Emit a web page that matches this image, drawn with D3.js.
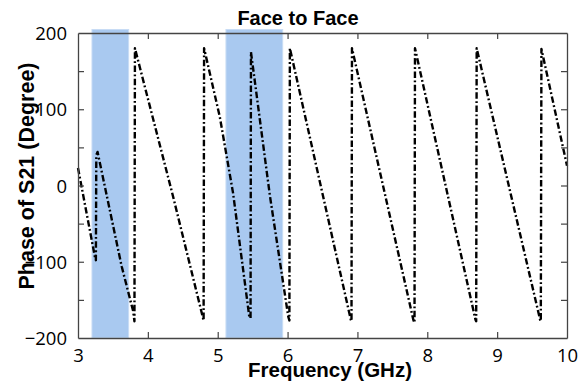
<!DOCTYPE html>
<html>
<head>
<meta charset="utf-8">
<script src="https://cdn.jsdelivr.net/npm/d3@7"></script>
<style>
  html, body { margin: 0; padding: 0; background: #fff; }
  svg { display: block; }
</style>
</head>
<body>
<svg id="chart" width="587" height="386"></svg>
<script>
// Measured S21 phase, face-to-face configuration
const freqGHz = [3.00, 3.245, 3.256, 3.262, 3.28, 3.625, 3.79, 3.808, 3.815, 4.36, 4.79, 4.798, 4.805,
  5.03, 5.22, 5.452, 5.47, 5.476, 5.748, 6.01, 6.026, 6.033, 6.905, 6.915, 6.922,
  7.80, 7.817, 7.824, 8.69, 8.70, 8.707, 9.615, 9.625, 9.634, 10.0];
const phaseDeg = [23, -95, -98, 40, 44, -106, -165, -178, 180, -14, -174, -177, 180,
  90, -10, -172, -174, 175, -14, -172, -177, 180, -176, -178, 180,
  -176, -180, 180, -176, -178, 180, -176, -178, 179, 26];

// Shaded frequency bands
const bandStart = [3.2, 5.118];
const bandEnd = [3.725, 5.93];

const xTicks = [3, 4, 5, 6, 7, 8, 9, 10];
const yTicks = [-200, -150, -100, -50, 0, 50, 100, 150, 200];
const yLabels = [-200, -100, 0, 100, 200];

const svg = d3.select("#chart");
const m = { left: 78, right: 567, top: 33, bottom: 338 };

const x = d3.scaleLinear().domain([3, 10]).range([m.left, m.right]);
const y = d3.scaleLinear().domain([-200, 200]).range([m.bottom, m.top]);

// bands
svg.append("g").selectAll("rect")
  .data(bandStart.map((s, i) => [s, bandEnd[i]]))
  .join("rect")
  .attr("x", d => x(d[0]))
  .attr("width", d => x(d[1]) - x(d[0]))
  .attr("y", m.top - 3.5)
  .attr("height", m.bottom - m.top + 3.5)
  .attr("fill", "#a9c9f0")
  .attr("stroke", "#c8dcf5")
  .attr("stroke-width", 1);

// phase trace
const pts = freqGHz.map((f, i) => [f, phaseDeg[i]]);
svg.append("path")
  .datum(pts)
  .attr("d", d3.line().x(d => x(d[0])).y(d => y(d[1])))
  .attr("fill", "none")
  .attr("stroke", "#000")
  .attr("stroke-width", 2.4)
  .attr("stroke-dasharray", "6.5,2.5,1.8,2.5")
  .attr("stroke-linejoin", "round");

// frame and ticks
const axisColor = "#444";
const tickFont = "'Open Sans', 'Liberation Sans', sans-serif";

const gBottom = svg.append("g").attr("transform", `translate(0,${m.bottom})`)
  .call(d3.axisBottom(x).tickValues(xTicks).tickSizeInner(-6).tickSizeOuter(0).tickPadding(11).tickFormat(d3.format("d")));
const gTop = svg.append("g").attr("transform", `translate(0,${m.top})`)
  .call(d3.axisTop(x).tickValues(xTicks).tickSizeInner(-6).tickSizeOuter(0).tickFormat(""));
const gLeft = svg.append("g").attr("transform", `translate(${m.left},0)`)
  .call(d3.axisLeft(y).tickValues(yTicks).tickSizeInner(-6).tickSizeOuter(0).tickPadding(11)
    .tickFormat(d => yLabels.includes(d) ? d3.format("d")(d) : ""));
const gRight = svg.append("g").attr("transform", `translate(${m.right},0)`)
  .call(d3.axisRight(y).tickValues(yTicks).tickSizeInner(-6).tickSizeOuter(0).tickFormat(""));

[gBottom, gTop, gLeft, gRight].forEach(g => {
  g.select(".domain").attr("stroke", axisColor).attr("stroke-width", 1.3);
  g.selectAll(".tick line").attr("stroke", axisColor).attr("stroke-width", 1.2);
  g.selectAll(".tick text").attr("fill", "#000").style("font-family", tickFont).style("font-size", "18.5px");
});
gBottom.selectAll(".tick text").attr("dy", "0.71em");
gLeft.selectAll(".tick text").attr("dy", "0.36em");

// no tick marks at the frame corners
gBottom.selectAll(".tick").filter(d => d === 3 || d === 10).select("line").remove();
gTop.selectAll(".tick").filter(d => d === 3 || d === 10).select("line").remove();
gLeft.selectAll(".tick").filter(d => d === -200 || d === 200).select("line").remove();
gRight.selectAll(".tick").filter(d => d === -200 || d === 200).select("line").remove();

// titles
const boldFont = "'Liberation Sans', Arial, sans-serif";
svg.append("text")
  .attr("x", 298).attr("y", 25)
  .attr("text-anchor", "middle")
  .style("font-family", boldFont).style("font-weight", "bold").style("font-size", "20px")
  .text("Face to Face");

svg.append("text")
  .attr("x", 330).attr("y", 377)
  .attr("text-anchor", "middle")
  .style("font-family", boldFont).style("font-weight", "bold").style("font-size", "20.5px")
  .text("Frequency (GHz)");

svg.append("text")
  .attr("transform", "translate(34,176) rotate(-90)")
  .attr("text-anchor", "middle")
  .style("font-family", boldFont).style("font-weight", "bold").style("font-size", "21.5px")
  .text("Phase of S21 (Degree)");
</script>
</body>
</html>
